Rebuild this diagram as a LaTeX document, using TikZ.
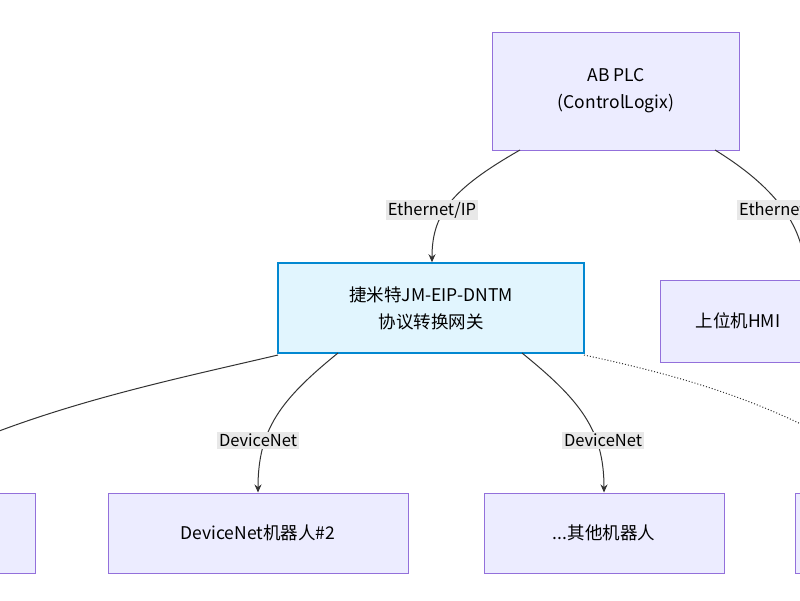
\documentclass[tikz,border=0pt]{standalone}
\usepackage{fontspec}
\setmainfont{Noto Sans CJK SC}
\usetikzlibrary{arrows.meta}
\definecolor{boxfill}{HTML}{ECECFF}
\definecolor{boxline}{HTML}{9370DB}
\definecolor{gwfill}{HTML}{E1F5FE}
\definecolor{gwline}{HTML}{0288D1}
\definecolor{lblfill}{HTML}{E8E8E8}
\definecolor{edge}{HTML}{333333}
\begin{document}
\begin{tikzpicture}[x=1pt,y=-1pt,font=\fontsize{17.5}{27}\selectfont,
      device/.style ={draw=boxline, fill=boxfill, line width=1pt, align=center, inner sep=0pt},
      gateway/.style ={draw=gwline, fill=gwfill, line width=1.5pt, align=center, inner sep=0pt},
      link/.style ={draw=edge, line width=1pt, -{Stealth[length=8pt,width=7pt]}},
      tag/.style ={fill=lblfill, inner sep=2pt, font=\fontsize{16.5}{20}\selectfont}]
   \useasboundingbox (0,0) rectangle (800,600);
   \clip (0,0) rectangle (800,600);
   \fill[white] (0,0) rectangle (800,600);

   \node[device, minimum width=247pt, minimum height=118pt] (plc) at (616,91) {AB PLC\\(ControlLogix)};
   \node[gateway, minimum width=306pt, minimum height=90pt] (gw) at (431,308) {捷米特JM-EIP-DNTM\\协议转换网关};
   \node[device, minimum width=156pt, minimum height=82pt] (hmi) at (738,321) {上位机HMI};

   \node[device, minimum width=330pt, minimum height=80pt] (r1) at (-130,533) {};
   \node[device, minimum width=300pt, minimum height=80pt] (r2) at (258,533) {DeviceNet机器人\#2};
   \node[device, minimum width=240pt, minimum height=80pt] (r3) at (604,533) {...其他机器人};
   \node[device, minimum width=240pt, minimum height=80pt] (r4) at (915,533) {};

   \coordinate (plcL) at (520,150);
   \coordinate (plcR) at (715,150);
   \coordinate (gwL) at (278,355);
   \coordinate (gwA) at (338,353);
   \coordinate (gwB) at (522,353);
   \coordinate (gwR) at (584,355);

   \draw[link] (plcL) .. controls (450,190) and (432,215) .. (gw.north -| 432,0);
   \draw[link] (plcR) .. controls (780,190) and (805,230) .. (hmi.north -| 805,0);
   \draw[link] (gwL) .. controls (150,385) and (0,415) .. (r1.north);
   \draw[link] (gwA) .. controls (280,400) and (258,430) .. (r2.north -| 258,0);
   \draw[link] (gwB) .. controls (580,400) and (604,430) .. (r3.north -| 604,0);
   \draw[link, dotted] (gwR) .. controls (700,380) and (800,410) .. (r4.north);

   \node[tag] (t1) at (432,210) {Ethernet/IP};
   \node[tag, anchor=west] (t2) at (737,210) {Ethernet/IP};
   \node[tag] (t3) at (258,440) {DeviceNet};
   \node[tag] (t4) at (603,440) {DeviceNet};
 \end{tikzpicture}
\end{document}
